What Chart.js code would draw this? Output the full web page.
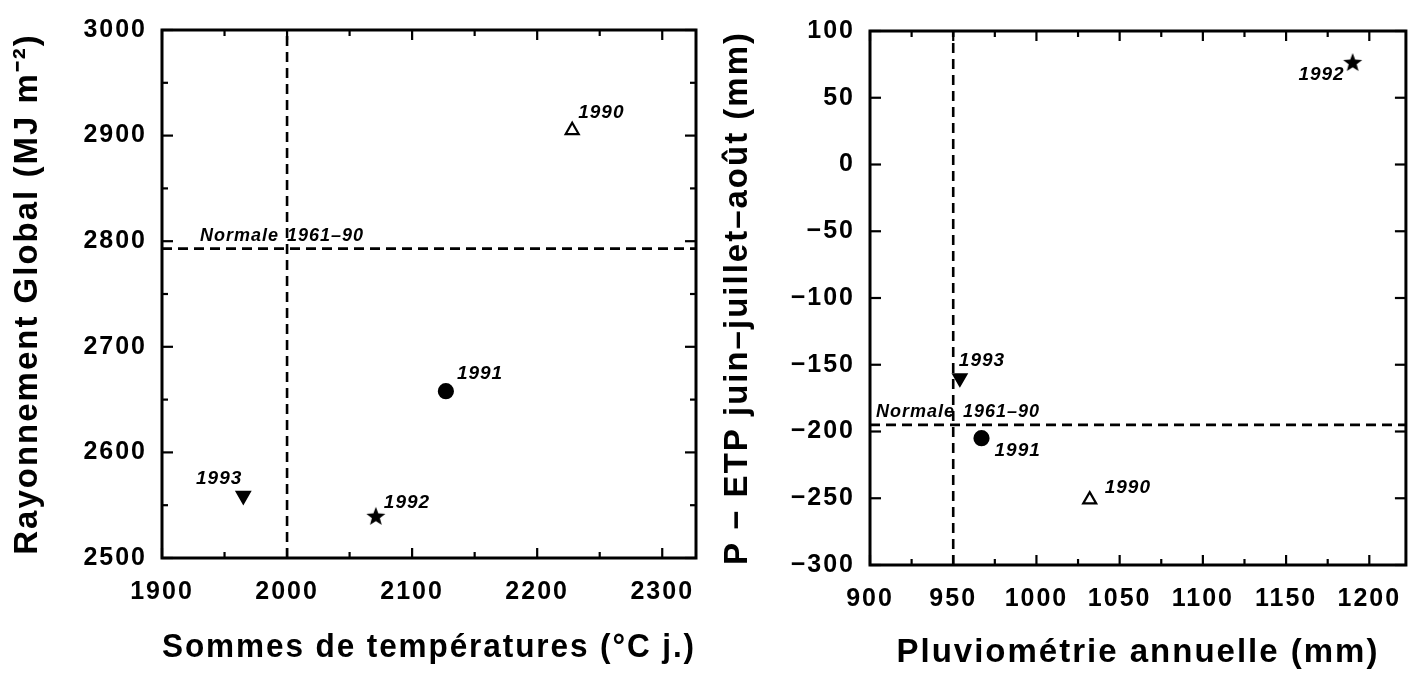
<!DOCTYPE html>
<html>
<head>
<meta charset="utf-8">
<script src="https://cdn.jsdelivr.net/npm/chart.js@4"></script>
<style>
body { margin: 0; background: #fff; }
#wrap { position: relative; width: 1421px; height: 674px; }
canvas { position: absolute; top: 0; }
#left { left: 0; }
#right { left: 715px; }
</style>
</head>
<body>
<div id="wrap">
  <canvas id="left" width="715" height="674"></canvas>
  <canvas id="right" width="706" height="674"></canvas>
</div>
<script>
// data
const years = ['1990', '1991', '1992', '1993'];

const sommesTemp = [2228, 2127, 2071, 1965];
const rayonnement = [2905, 2658, 2539, 2559];
const tempTicks = [1900, 2000, 2100, 2200, 2300];
const rayTicks = [2500, 2600, 2700, 2800, 2900, 3000];
const tempRange = [1900, 2327];
const rayRange = [2500, 3000];
const normaleTemp = 2000;
const normaleRay = 2793;

const pluvio = [1032, 967, 1190, 954];
const pEtp = [-251, -205, 76, -160];
const pluvioTicks = [900, 950, 1000, 1050, 1100, 1150, 1200];
const pEtpTicks = [-300, -250, -200, -150, -100, -50, 0, 50, 100];
const pluvioRange = [900, 1222];
const pEtpRange = [-300, 100];
const normalePluvio = 950;
const normalePEtp = -195;

const FONT = '"Liberation Sans", Arial, Helvetica, sans-serif';
Chart.defaults.color = '#000';
Chart.defaults.font.family = FONT;

function makeStar(r) {
    const c = document.createElement('canvas');
    c.width = c.height = Math.ceil(2 * r + 2);
    const g = c.getContext('2d');
    g.beginPath();
    for (let i = 0; i < 10; i++) {
        const rr = i % 2 ? r * 0.42 : r;
        const ang = -Math.PI / 2 + i * Math.PI / 5;
        g.lineTo(c.width / 2 + rr * Math.cos(ang), c.height / 2 + rr * Math.sin(ang));
    }
    g.closePath();
    g.fillStyle = '#000';
    g.fill();
    return c;
}
const star = makeStar(10);

// marker per year: 1990 open triangle, 1991 dot, 1992 star, 1993 down triangle
const markerStyle = ['triangle', 'circle', star, 'triangle'];
const markerRotation = [0, 0, 0, 180];
const markerFill = ['#fff', '#000', '#000', '#000'];
const markerRadius = [7.5, 7, 8, 7.5];

function minors(ticks) {
    let out = [];
    for (let i = 0; i < ticks.length - 1; i++) out.push((ticks[i] + ticks[i + 1]) / 2);
    return out;
}

const spacing = {
    id: 'spacing',
    beforeUpdate(chart) { chart.ctx.letterSpacing = '2px'; },
    beforeDraw(chart) { chart.ctx.letterSpacing = '2px'; }
};

const frame = {
    id: 'frame',
    afterDraw(chart, args, opts) {
        const {ctx, chartArea: a} = chart;
        const x = chart.scales.x, y = chart.scales.y;
        ctx.save();
        ctx.strokeStyle = '#000';
        ctx.lineWidth = 2.2;
        const seg = (x1, y1, x2, y2) => {
            ctx.beginPath(); ctx.moveTo(x1, y1); ctx.lineTo(x2, y2); ctx.stroke();
        };
        const xt = (v, len) => {
            const px = x.getPixelForValue(v);
            seg(px, a.bottom, px, a.bottom - len);
            seg(px, a.top, px, a.top + len);
        };
        const yt = (v, len) => {
            const py = y.getPixelForValue(v);
            seg(a.left, py, a.left + len, py);
            seg(a.right, py, a.right - len, py);
        };
        opts.xMajor.forEach(v => xt(v, 10));
        opts.xMinor.forEach(v => xt(v, 6));
        opts.yMajor.forEach(v => yt(v, 11));
        opts.yMinor.forEach(v => yt(v, 6));
        ctx.lineWidth = 3;
        ctx.strokeRect(a.left, a.top, a.right - a.left, a.bottom - a.top);
        ctx.restore();
    }
};

const annotations = {
    id: 'annotations',
    afterDatasetsDraw(chart, args, opts) {
        const ctx = chart.ctx;
        const a = chart.chartArea;
        const meta = chart.getDatasetMeta(0);
        ctx.save();
        ctx.letterSpacing = '1px';
        ctx.fillStyle = '#000';
        ctx.textBaseline = 'middle';
        ctx.font = 'italic bold 19px ' + FONT;
        meta.data.forEach((pt, i) => {
            const o = opts.offsets[i];
            ctx.textAlign = o[2];
            ctx.fillText(years[i], pt.x + o[0], pt.y + o[1]);
        });
        ctx.textAlign = 'left';
        ctx.font = 'italic bold 18px ' + FONT;
        const py = chart.scales.y.getPixelForValue(opts.normaleY) - 13;
        ctx.fillText('Normale', a.left + opts.normaleX[0], py);
        ctx.fillText('1961\u201390', a.left + opts.normaleX[1], py);
        ctx.restore();
    }
};

const plainNumber = v => String(v).replace('-', '\u2212');

function makeChart(id, cfg) {
    const points = cfg.xs.map((v, i) => ({x: v, y: cfg.ys[i]}));
    const dashed = {
        type: 'line',
        borderColor: '#000',
        borderWidth: 2.6,
        borderDash: [10, 6],
        pointRadius: 0,
        fill: false
    };
    return new Chart(document.getElementById(id), {
        type: 'scatter',
        data: {
            datasets: [{
                data: points,
                pointStyle: markerStyle,
                rotation: markerRotation,
                pointRadius: markerRadius,
                backgroundColor: markerFill,
                borderColor: '#000',
                borderWidth: 2.2
            }, Object.assign({
                data: [{x: cfg.normX, y: cfg.yRange[0]}, {x: cfg.normX, y: cfg.yRange[1]}]
            }, dashed), Object.assign({
                data: [{x: cfg.xRange[0], y: cfg.normY}, {x: cfg.xRange[1], y: cfg.normY}]
            }, dashed)]
        },
        options: {
            responsive: false,
            animation: false,
            layout: { padding: cfg.padding },
            plugins: {
                legend: { display: false },
                tooltip: { enabled: false },
                frame: {
                    xMajor: cfg.xTicks, xMinor: minors(cfg.xTicks),
                    yMajor: cfg.yTicks, yMinor: cfg.yMinor
                },
                annotations: {
                    offsets: cfg.offsets,
                    normaleY: cfg.normY,
                    normaleX: cfg.normaleX
                }
            },
            scales: {
                x: {
                    type: 'linear',
                    min: cfg.xRange[0], max: cfg.xRange[1],
                    afterBuildTicks: s => { s.ticks = cfg.xTicks.map(v => ({value: v})); },
                    afterFit: s => { s.height = cfg.xHeight; },
                    grid: { display: false, drawTicks: false },
                    border: { display: false },
                    ticks: { autoSkip: false, maxRotation: 0, padding: 19,
                        callback: plainNumber,
                        font: { size: 25, weight: 'bold' } },
                    title: { display: true, text: cfg.xTitle, padding: {top: 0, bottom: cfg.xTitlePad},
                        font: { size: 33, weight: 'bold' } }
                },
                y: {
                    type: 'linear',
                    min: cfg.yRange[0], max: cfg.yRange[1],
                    afterBuildTicks: s => { s.ticks = cfg.yTicks.map(v => ({value: v})); },
                    afterFit: s => { s.width = cfg.yWidth; },
                    grid: { display: false, drawTicks: false },
                    border: { display: false },
                    ticks: { autoSkip: false, padding: 15,
                        callback: plainNumber,
                        font: { size: 25, weight: 'bold' } },
                    title: { display: true, text: cfg.yTitle, padding: {top: cfg.yTitlePad, bottom: 0},
                        font: { size: 33, weight: 'bold' } }
                }
            }
        },
        plugins: [spacing, frame, annotations]
    });
}

const leftChart = makeChart('left', {
    xs: sommesTemp, ys: rayonnement,
    xRange: tempRange, yRange: rayRange,
    xTicks: tempTicks, yTicks: rayTicks, yMinor: minors(rayTicks),
    normX: normaleTemp, normY: normaleRay,
    xTitle: 'Sommes de températures (°C j.)',
    yTitle: 'Rayonnement Global (MJ m\u207B\u00B2)',
    padding: {left: 0, right: 19, top: 25, bottom: 0},
    xHeight: 116, yWidth: 162, xTitlePad: 6, yTitlePad: 8,
    offsets: [[6, -18, 'left'], [11, -17, 'left'], [8, -14, 'left'], [-1, -17, 'right']],
    normaleX: [38, 125]
});

const rightChart = makeChart('right', {
    xs: pluvio, ys: pEtp,
    xRange: pluvioRange, yRange: pEtpRange,
    xTicks: pluvioTicks, yTicks: pEtpTicks, yMinor: [],
    normX: normalePluvio, normY: normalePEtp,
    xTitle: 'Pluviométrie annuelle (mm)',
    yTitle: 'P \u2212 ETP juin\u2013juillet\u2013août (mm)',
    padding: {left: 0, right: 13, top: 31, bottom: 0},
    xHeight: 109, yWidth: 155, xTitlePad: 1, yTitlePad: 3,
    offsets: [[15, -12, 'left'], [13, 13, 'left'], [-8, 12, 'right'], [-1, -17, 'left']],
    normaleX: [6, 93]
});
</script>
</body>
</html>
